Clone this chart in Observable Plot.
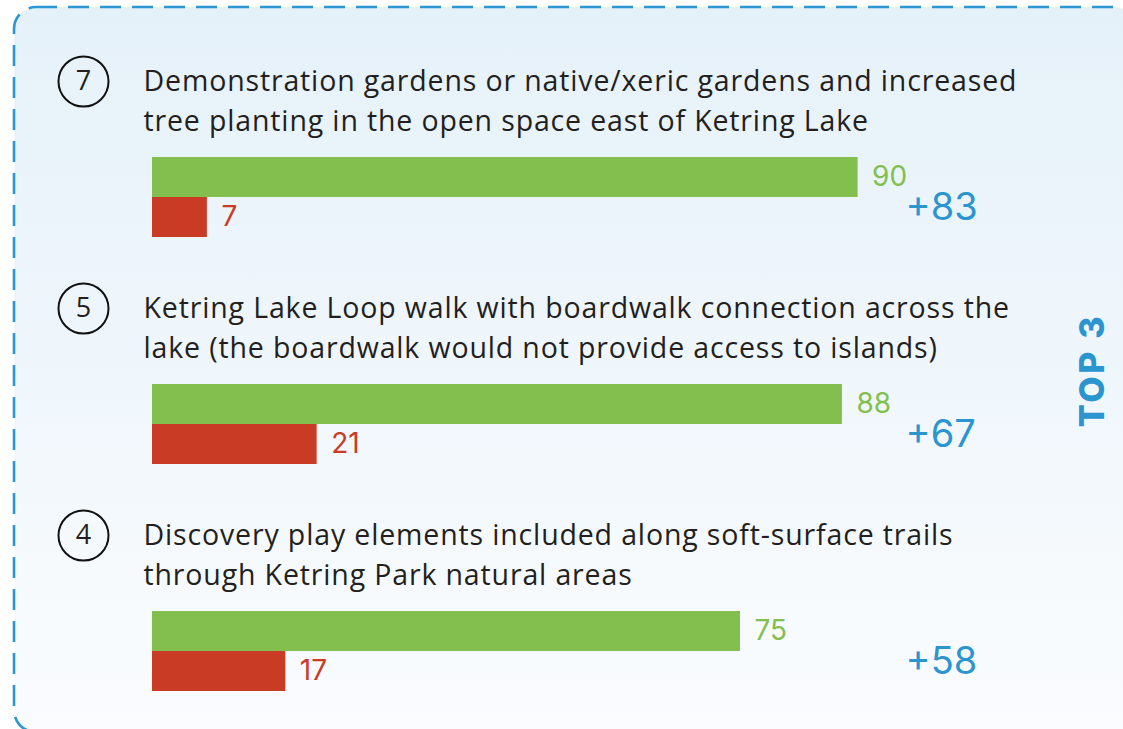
<!DOCTYPE html>
<html><head><meta charset="utf-8">
<script src="https://cdn.jsdelivr.net/npm/d3@7"></script>
<script src="https://cdn.jsdelivr.net/npm/@observablehq/plot@0.6"></script>
<style>
html,body{margin:0;padding:0;background:#fff;}
#wrap{position:relative;width:1123px;height:729px;overflow:hidden;}
#bg{position:absolute;left:0;top:0;}
#chart{position:absolute;left:0;top:0;}
</style></head><body>
<div id="wrap">
<svg id="bg" width="1123" height="729">
<defs><linearGradient id="bgGrad" x1="0" y1="0" x2="0" y2="1"><stop offset="0" stop-color="#E5F1F9"/><stop offset="1" stop-color="#FAFCFE"/></linearGradient></defs>
<rect x="14" y="7" width="1122" height="725" rx="22" fill="url(#bgGrad)" stroke="#2A97D2" stroke-width="2.6" stroke-dasharray="21 11"/>
</svg>
<div id="chart"></div>
</div>
<script>
// ---- data ----
const ids = ["7", "5", "4"];
const titles = [
  "Demonstration gardens or native/xeric gardens and increased\ntree planting in the open space east of Ketring Lake",
  "Ketring Lake Loop walk with boardwalk connection across the\nlake (the boardwalk would not provide access to islands)",
  "Discovery play elements included along soft-surface trails\nthrough Ketring Park natural areas"
];
const support = [90, 88, 75];
const oppose = [7, 21, 17];
const net = [83, 67, 58];
const kinds = ["support", "oppose"];
const sideLabel = "TOP 3";

// ---- styles ----
const GREEN = "#82BF4F", RED = "#C93B25", BLUE = "#2A95CF", INK = "#231F20";

const items = ids.map((id, i) => ({id, title: titles[i], net: net[i]}));
const rows = ids.flatMap((id, i) => [
  {id, kind: "support", value: support[i]},
  {id, kind: "oppose", value: oppose[i]}
]);

const chart = Plot.plot({
  width: 1123,
  height: 729,
  marginLeft: 152,
  marginRight: 187,
  marginTop: 156,
  marginBottom: 37,
  style: {background: "transparent", overflow: "visible"},
  x: {domain: [0, 100], axis: null},
  y: {domain: kinds, padding: 0, axis: null},
  fy: {domain: ids, paddingInner: 0.649, paddingOuter: 0, axis: null},
  color: {domain: kinds, range: [GREEN, RED]},
  marks: [
    Plot.barX(rows, {x: "value", y: "kind", fy: "id", fill: "kind"}),
    Plot.text(rows, {
      x: "value", y: "kind", fy: "id", fill: "kind",
      text: d => String(d.value), textAnchor: "start", dx: 14,
      fontSize: 28, fontFamily: "Inter, sans-serif", fontWeight: 400
    }),
    Plot.text(items, {
      fy: "id", frameAnchor: "top-left", text: "title",
      textAnchor: "start", lineAnchor: "bottom", lineHeight: 1.37,
      dx: -9, dy: -27, fontSize: 28.5, fill: INK, fontFamily: "'Open Sans', sans-serif"
    }),
    Plot.dot(items, {
      fy: "id", frameAnchor: "top-left", dx: -69, dy: -76,
      r: 25, stroke: "#111", strokeWidth: 2, fill: "none"
    }),
    Plot.text(items, {
      fy: "id", frameAnchor: "top-left", text: "id", dx: -69, dy: -76,
      fontSize: 27, fill: INK, fontFamily: "'Open Sans', sans-serif", textAnchor: "middle", lineAnchor: "middle"
    }),
    Plot.text(items, {
      fy: "id", frameAnchor: "right", text: d => "+" + d.net,
      textAnchor: "start", dx: -31, dy: 10,
      fontSize: 38, fill: BLUE, fontFamily: "Inter, sans-serif", fontWeight: 400
    }),
    Plot.text([items[1]], {
      fy: "id", frameAnchor: "right", text: () => sideLabel, rotate: -90,
      dx: 157, dy: -54, fontSize: 34, fontWeight: 800, fill: BLUE,
      fontFamily: "Inter, sans-serif", textAnchor: "middle", lineAnchor: "middle"
    })
  ]
});
document.getElementById("chart").appendChild(chart);
const svgSel = d3.select(chart);
svgSel.selectAll("text").filter(function(){ return this.textContent === sideLabel; })
  .attr("letter-spacing", "0.08em");
svgSel.selectAll("text").filter(function(){ return this.querySelector("tspan") !== null; })
  .attr("letter-spacing", "0.03em");
</script>
</body></html>
